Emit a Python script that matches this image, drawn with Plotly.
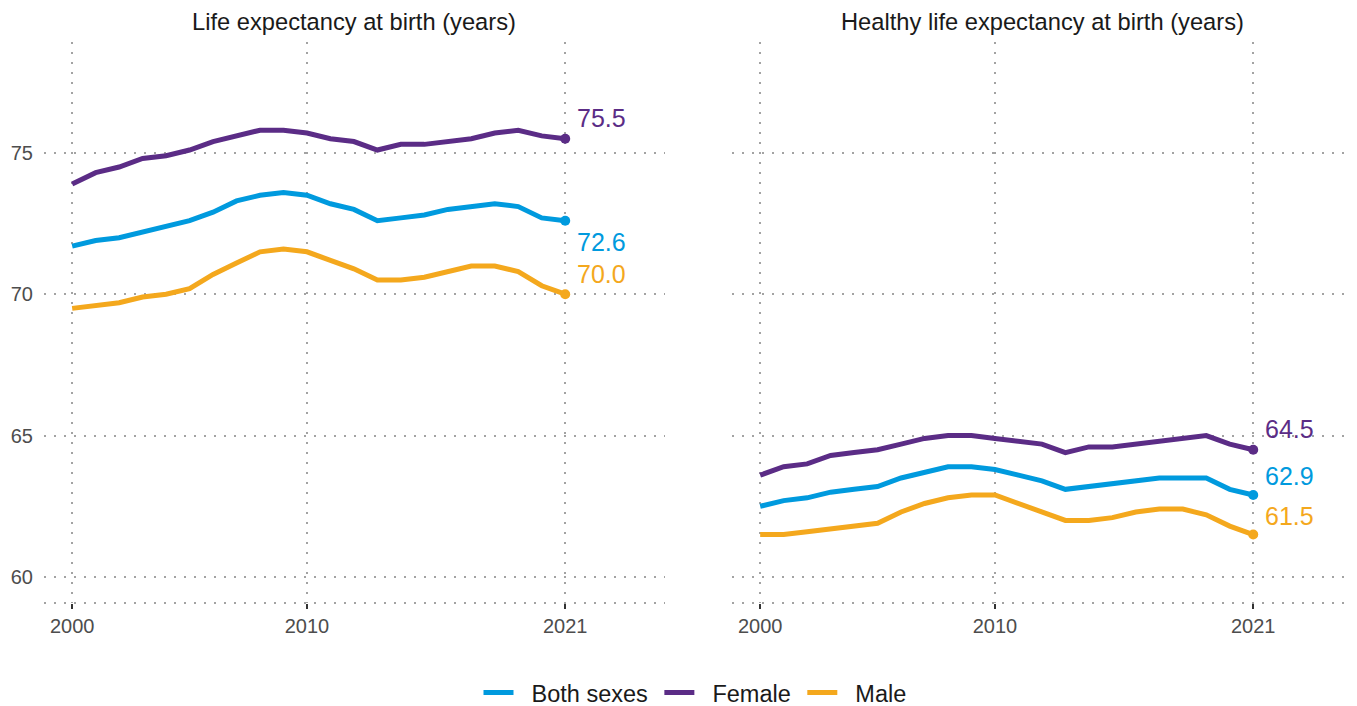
import plotly.graph_objects as go
from plotly.subplots import make_subplots

years = list(range(2000, 2022))

# Life expectancy at birth (years)
le_both = [71.7, 71.9, 72.0, 72.2, 72.4, 72.6, 72.9, 73.3, 73.5, 73.6, 73.5,
           73.2, 73.0, 72.6, 72.7, 72.8, 73.0, 73.1, 73.2, 73.1, 72.7, 72.6]
le_female = [73.9, 74.3, 74.5, 74.8, 74.9, 75.1, 75.4, 75.6, 75.8, 75.8, 75.7,
             75.5, 75.4, 75.1, 75.3, 75.3, 75.4, 75.5, 75.7, 75.8, 75.6, 75.5]
le_male = [69.5, 69.6, 69.7, 69.9, 70.0, 70.2, 70.7, 71.1, 71.5, 71.6, 71.5,
           71.2, 70.9, 70.5, 70.5, 70.6, 70.8, 71.0, 71.0, 70.8, 70.3, 70.0]

# Healthy life expectancy at birth (years)
hale_both = [62.5, 62.7, 62.8, 63.0, 63.1, 63.2, 63.5, 63.7, 63.9, 63.9, 63.8,
             63.6, 63.4, 63.1, 63.2, 63.3, 63.4, 63.5, 63.5, 63.5, 63.1, 62.9]
hale_female = [63.6, 63.9, 64.0, 64.3, 64.4, 64.5, 64.7, 64.9, 65.0, 65.0, 64.9,
               64.8, 64.7, 64.4, 64.6, 64.6, 64.7, 64.8, 64.9, 65.0, 64.7, 64.5]
hale_male = [61.5, 61.5, 61.6, 61.7, 61.8, 61.9, 62.3, 62.6, 62.8, 62.9, 62.9,
             62.6, 62.3, 62.0, 62.0, 62.1, 62.3, 62.4, 62.4, 62.2, 61.8, 61.5]

panel_titles = ["Life expectancy at birth (years)",
                "Healthy life expectancy at birth (years)"]
series_names = ["Both sexes", "Female", "Male"]
colors = {"Both sexes": "#009ADE", "Female": "#5B2C86", "Male": "#F4A81D"}
x_ticks = [2000, 2010, 2021]
y_ticks = [60, 65, 70, 75]

panels = [
    {"Both sexes": le_both, "Female": le_female, "Male": le_male},
    {"Both sexes": hale_both, "Female": hale_female, "Male": hale_male},
]
# vertical offsets of the end labels (px)
label_shift = [
    {"Both sexes": -21, "Female": 21, "Male": 20},
    {"Both sexes": 19, "Female": 21, "Male": 19},
]

FONT = "Liberation Sans, Arial, sans-serif"
GRID = "#a3a3a3"
NB = "\u00a0"

fig = make_subplots(rows=1, cols=2, shared_yaxes=True)

for i, data in enumerate(panels):
    col = i + 1
    for name in series_names:
        vals = data[name]
        fig.add_trace(go.Scatter(
            x=years, y=vals, mode="lines", name=NB * 2 + name + NB,
            line=dict(color=colors[name], width=5),
            legendgroup=name, showlegend=(i == 0),
        ), row=1, col=col)
        fig.add_trace(go.Scatter(
            x=years[-1:], y=vals[-1:], mode="markers",
            marker=dict(color=colors[name], size=10),
            legendgroup=name, showlegend=False, hoverinfo="skip",
        ), row=1, col=col)
        fig.add_annotation(
            x=years[-1], y=vals[-1], xref=f"x{col if col > 1 else ''}",
            yref=f"y{col if col > 1 else ''}",
            text=f"{vals[-1]:.1f}", showarrow=False,
            xanchor="left", yanchor="middle", xshift=10, yshift=label_shift[i][name],
            font=dict(size=25, color=colors[name], family=FONT),
        )

dom = [[0, 0.4744], [0.5256, 1]]
for i in range(2):
    col = i + 1
    fig.update_xaxes(
        domain=dom[i], range=[1998.8, 2025.25], tickvals=x_ticks,
        showgrid=True, gridcolor=GRID, gridwidth=2, griddash="2px,8px",
        zeroline=False, showline=False, automargin=False,
        ticks="outside", ticklen=5, tickwidth=2, tickcolor="#333333",
        tickfont=dict(size=20, color="#4d4d4d", family=FONT),
        row=1, col=col,
    )
    fig.update_yaxes(
        range=[59.08, 78.92], tickvals=y_ticks,
        showgrid=True, gridcolor=GRID, gridwidth=2, griddash="2px,8px",
        zeroline=False, showline=False, ticks="", automargin=False,
        showticklabels=(i == 0), ticklabelstandoff=10,
        tickfont=dict(size=20, color="#4d4d4d", family=FONT),
        row=1, col=col,
    )
    xr = "x domain" if col == 1 else "x2 domain"
    yr = "y domain" if col == 1 else "y2 domain"
    fig.add_shape(type="line", xref=xr, yref=yr, x0=0, x1=1, y0=0, y1=0,
                  line=dict(color=GRID, width=2, dash="2px,8px"), layer="below")
    fig.add_annotation(
        x=(dom[i][0] + dom[i][1]) / 2, y=1.0357, xref="paper", yref="paper",
        text=panel_titles[i], showarrow=False, xanchor="center", yanchor="middle",
        font=dict(size=23.7, color="#1a1a1a", family=FONT),
    )

# the page body adds an 8px offset, so the figure is drawn 8px smaller
fig.update_layout(
    width=1349, height=698,
    margin=dict(l=36, r=4, t=34, b=103, autoexpand=False),
    plot_bgcolor="white", paper_bgcolor="white",
    font=dict(family=FONT),
    legend=dict(
        orientation="h", x=0.5, xanchor="center", y=-0.16, yanchor="middle",
        font=dict(size=23.5, color="#1a1a1a", family=FONT),
        itemwidth=30,
    ),
)

fig.write_html("out.html")
